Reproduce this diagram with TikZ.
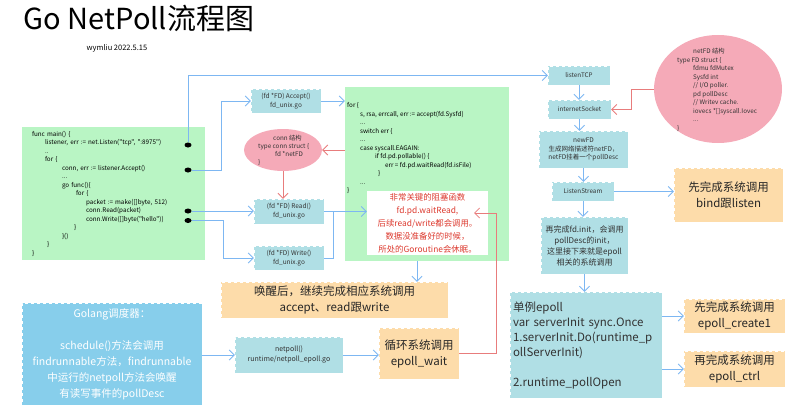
\documentclass[tikz,border=0pt]{standalone}
\usepackage{fontspec}
\newfontfamily\cjkfam{Noto Sans CJK SC}
\usetikzlibrary{arrows.meta,shapes.geometric}

\definecolor{boxblue}{HTML}{B0DFE5}
\definecolor{codegreen}{HTML}{B9F5C4}
\definecolor{shellpink}{HTML}{F5AAB8}
\definecolor{noteorange}{HTML}{FDDCAA}
\definecolor{schedblue}{HTML}{87CEEB}
\definecolor{wireblue}{HTML}{7DB7F2}
\definecolor{wirered}{HTML}{E87C7C}
\definecolor{hintred}{HTML}{DD3B30}
\definecolor{inktext}{HTML}{333333}

\newcommand\codefont{\fontsize{6.3}{8.5}\selectfont}

\tikzset{
  fdbox/.style={draw=white,dashed,fill=boxblue,text=inktext,inner sep=0pt,align=center,font=\fontsize{6.5}{9}\selectfont},
  codebox/.style={fill=codegreen,inner sep=0pt},
  notebox/.style={draw=white,dashed,fill=noteorange,text=black!85,inner sep=0pt,align=center,font=\fontsize{11.5}{16}\selectfont},
  shell/.style={ellipse,fill=shellpink,inner sep=0pt},
  shelltext/.style={inner sep=0pt,align=left,text=inktext,anchor=west},
  dot/.style={ellipse,fill=black,minimum width=7pt,minimum height=5pt,inner sep=0pt},
  bluelink/.style={draw=wireblue,line width=0.8pt,-{Straight Barb[length=5pt,width=10pt]}},
  bluewire/.style={draw=wireblue,line width=0.8pt},
  redlink/.style={draw=wirered,line width=0.8pt,-{Straight Barb[length=5pt,width=10pt]}},
}

\begin{document}
\cjkfam
\begin{tikzpicture}[x=1pt,y=-1pt]
\useasboundingbox (0,0) rectangle (800,412);

\draw (139,18) node[font=\fontsize{29}{32}\selectfont](title) {Go NetPoll流程图};
\draw (117,48) node[font=\fontsize{7.5}{8}\selectfont](author) {wymliu 2022.5.15};

% main() code
\draw (113.5,193.5) node[codebox,minimum height=133pt,text width=163pt,inner xsep=10pt,align=left,font=\codefont](mainbox) {func main() \{\\
\hspace*{13pt}listener, err := net.Listen("tcp", ":8975")\\
\hspace*{13pt}..\\
\hspace*{13pt}for \{\\
\hspace*{30pt}conn, err := listener.Accept()\\
\hspace*{30pt}...\\
\hspace*{30pt}go func()\{\\
\hspace*{44pt}for \{\\
\hspace*{54pt}packet := make([]byte, 512)\\
\hspace*{54pt}conn.Read(packet)\\
\hspace*{54pt}conn.Write([]byte("hello"))\\
\hspace*{42pt}\}\\
\hspace*{30pt}\}()\\
\hspace*{15pt}\}\\
\}};
\draw (188,145) node[dot](listendot) {};
\draw (188,170) node[dot](acceptdot) {};
\draw (188,211) node[dot](readdot) {};
\draw (188,220.5) node[dot](writedot) {};

% fd_unix.go
\draw (286,101) node[fdbox,minimum width=70pt,minimum height=24pt](accept) {(fd *FD) Accept()\\fd\_unix.go};
\draw (289,211.5) node[fdbox,minimum width=70pt,minimum height=25pt](read) {(fd *FD) Read()\\fd\_unix.go};
\draw (289,258) node[fdbox,minimum width=70pt,minimum height=24pt](write) {(fd *FD) Write()\\fd\_unix.go};
\draw (283,150) node[shell,minimum width=78pt,minimum height=42pt](conn) {};
\draw (258,150) node[shelltext,font=\fontsize{6.3}{8}\selectfont](conntext) {\hspace*{15pt}conn 结构\\type conn struct \{\\\hspace*{17pt}fd *netFD\\\}};

% accept loop
\draw (427,174) node[codebox,minimum width=164pt,minimum height=174pt](loopbox) {};
\draw (347,102.5) node[anchor=north west,inner sep=0pt,align=left,font=\codefont](loopcode) {for \{\\
\hspace*{13pt}s, rsa, errcall, err := accept(fd.Sysfd)\\
\hspace*{13pt}...\\
\hspace*{13pt}switch err \{\\
\hspace*{13pt}...\\
\hspace*{13pt}case syscall.EAGAIN:\\
\hspace*{28pt}if fd.pd.pollable() \{\\
\hspace*{38pt}err = fd.pd.waitRead(fd.isFile)\\
\hspace*{31pt}\}\\
\hspace*{13pt}...\\
\}};
\draw (427.5,223) node[fill=white,minimum width=121pt,minimum height=64pt,inner sep=0pt,align=center,text=hintred,font=\fontsize{8.4}{13}\selectfont](hint) {非常关键的阻塞函数\\fd.pd.waitRead,\\后续read/write都会调用。\\数据没准备好的时候，\\所处的Goroutine会休眠。};
\draw (334.5,300) node[notebox,minimum width=227pt,minimum height=36pt](wake) {唤醒后，继续完成相应系统调用\\accept、read跟write};

% scheduler
\draw (112,354) node[draw=white,dashed,fill=schedblue,text=white,inner sep=0pt,minimum width=180pt,minimum height=102pt,align=center,font=\fontsize{10.5}{16}\selectfont](sched) {Golang调度器：\\~\\schedule()方法会调用\\findrunnable方法，findrunnable\\中运行的netpoll方法会唤醒\\有读写事件的pollDesc};
\draw (289,355) node[fdbox,minimum width=108pt,minimum height=36pt,font=\fontsize{7}{10}\selectfont](netpoll) {netpoll()\\runtime/netpoll\_epoll.go};
\draw (419,353.5) node[notebox,minimum width=80pt,minimum height=51pt](wait) {循环系统调用\\epoll\_wait};

% listen chain
\draw (579,75.5) node[fdbox,minimum width=62pt,minimum height=19pt,font=\fontsize{6.3}{8}\selectfont](listen) {listenTCP};
\draw (579.5,109.5) node[fdbox,minimum width=63pt,minimum height=19pt,font=\fontsize{6.3}{8}\selectfont](socket) {internetSocket};
\draw (583.5,149.5) node[fdbox,minimum width=89pt,minimum height=37pt,font=\fontsize{6.5}{8.5}\selectfont](newfd) {newFD\\生成网络描述符netFD，\\netFD挂着一个pollDesc};
\draw (583,191.5) node[fdbox,minimum width=62pt,minimum height=19pt,font=\fontsize{6.3}{8}\selectfont](stream) {ListenStream};
\draw (584.5,245.5) node[fdbox,minimum width=87pt,minimum height=57pt,font=\fontsize{8}{11}\selectfont](init) {再完成fd.init，会调用\\pollDesc的init，\\这里接下来就是epoll\\相关的系统调用};
\draw (586,345) node[fdbox,minimum height=106pt,text width=146pt,inner xsep=3pt,align=left,font=\fontsize{11.5}{15}\selectfont](single) {单例epoll\\var serverInit sync.Once\\1.serverInit.Do(runtime\_p\\ollServerInit)\\~\\2.runtime\_pollOpen};
\draw (728.5,195) node[notebox,minimum width=109pt,minimum height=54pt](bind) {先完成系统调用\\bind跟listen};
\draw (734.5,316) node[notebox,minimum width=101pt,minimum height=34pt](create) {先完成系统调用\\epoll\_create1};
\draw (734.5,369) node[notebox,minimum width=101pt,minimum height=36pt](ctrl) {再完成系统调用\\epoll\_ctrl};
\draw (718,89) node[shell,minimum width=128pt,minimum height=108pt](netfd) {};
\draw (677,90) node[shelltext,font=\codefont](netfdtext) {\hspace*{16pt}netFD 结构\\type FD struct \{\\\hspace*{16pt}fdmu fdMutex\\\hspace*{16pt}Sysfd int\\\hspace*{16pt}// I/O poller.\\\hspace*{16pt}pd pollDesc\\\hspace*{16pt}// Writev cache.\\\hspace*{16pt}iovecs *[]syscall.Iovec\\\hspace*{16pt}...\\\}};

% connectors
\draw[bluelink] (listendot) |- (listen.west);
\draw[bluelink] (acceptdot) -- ++(33,0) |- (accept.west);
\draw[bluelink] (readdot) -- (readdot -| read.west);
\draw[bluelink] (writedot) -- ++(35,0) |- (write.west);
\draw[bluelink] (accept.east) -- (accept.east -| loopbox.west);
\draw[redlink] (loopbox.west |- conn.east) -- (conn.east);
\draw[redlink] (conn.south) -- (conn.south |- read.north);
\draw[bluelink] (read.east) -- (read.east -| hint.west);
\draw[bluewire] (write.east) -- ++(9,0) |- (read.east);
\draw[bluelink] ([xshift=-10pt]loopbox.south) -- ([xshift=-10pt]loopbox.south |- wake.north);
\draw[bluelink] (sched.east |- netpoll.west) -- (netpoll.west);
\draw[bluelink] (netpoll.east) -- (netpoll.east -| wait.west);
\coordinate (hintin) at (474,213);
\draw[redlink] (wait.east) -- ++(37,0) |- (hintin);
\draw[bluelink] (listen.south) -- (listen.south |- socket.north);
\draw[bluelink] (socket.south) -- (socket.south |- newfd.north);
\draw[bluelink] (newfd.south) -- (newfd.south |- stream.north);
\draw[bluelink] (stream.south) -- (stream.south |- init.north);
\draw[bluelink] (init.south) -- (init.south |- single.north);
\draw[bluelink] (stream.east) -- (stream.east -| bind.west);
\draw[bluelink] (single.east |- create.west) -- (create.west);
\draw[bluelink] (single.east |- ctrl.west) -- (ctrl.west);
\draw[redlink] (netfd.west) -- ++(-22,0) |- (socket.east);
\end{tikzpicture}
\end{document}
